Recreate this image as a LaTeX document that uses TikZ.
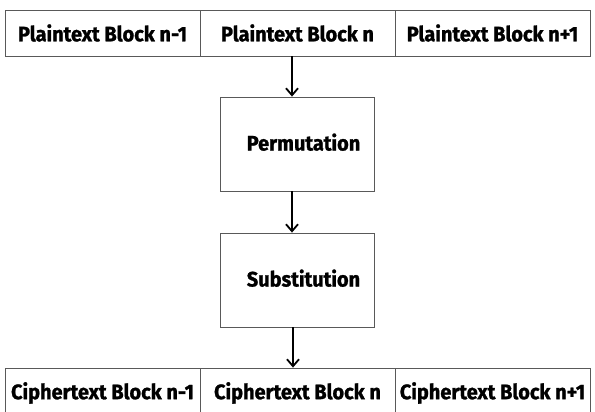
\documentclass[tikz,border=0pt]{standalone}
\usepackage{fontspec}
\setmainfont{Fira Sans}[FakeStretch=0.95,BoldFeatures={FakeBold=1.2}]
\usetikzlibrary{arrows.meta}
\begin{document}
\begin{tikzpicture}[x=1pt,y=-1pt,
  cell/.style={draw=black!65,line width=0.8pt,minimum width=195pt,minimum height=46pt,inner sep=0pt,font=\fontsize{21}{23}\selectfont\bfseries},
  stage/.style={draw=black!65,line width=0.8pt,minimum width=154pt,minimum height=94pt,inner sep=0pt,font=\fontsize{21}{23}\selectfont\bfseries},
  flow/.style={line width=1.8pt,-{Straight Barb[length=7pt,width=12pt,line width=1.8pt]}}]
\useasboundingbox[fill=white] (0,0) rectangle (595,412);
\node[cell] (p1) at (102.5,33) {Plaintext Block n-1};
\node[cell] (p2) at (297.5,33) {Plaintext Block n};
\node[cell] (p3) at (492.5,33) {Plaintext Block n+1};
\node[stage] (perm) at (297,144) {\hspace*{13pt}\raisebox{4pt}{Permutation}};
\node[stage] (subs) at (297,280) {\hspace*{13pt}\raisebox{4pt}{Substitution}};
\node[cell,minimum height=50pt] (c1) at (102.5,393) {\raisebox{-4pt}{Ciphertext Block n-1}};
\node[cell,minimum height=50pt] (c2) at (297.5,393) {\raisebox{-4pt}{Ciphertext Block n}};
\node[cell,minimum height=50pt] (c3) at (492.5,393) {\raisebox{-4pt}{Ciphertext Block n+1}};
\draw[flow] (p2.south -| 292,0) -- (perm.north -| 292,0);
\draw[flow] (perm.south -| 292,0) -- (subs.north -| 292,0);
\draw[flow] (subs.south -| 293,0) -- (c2.north -| 293,0);
\end{tikzpicture}
\end{document}
